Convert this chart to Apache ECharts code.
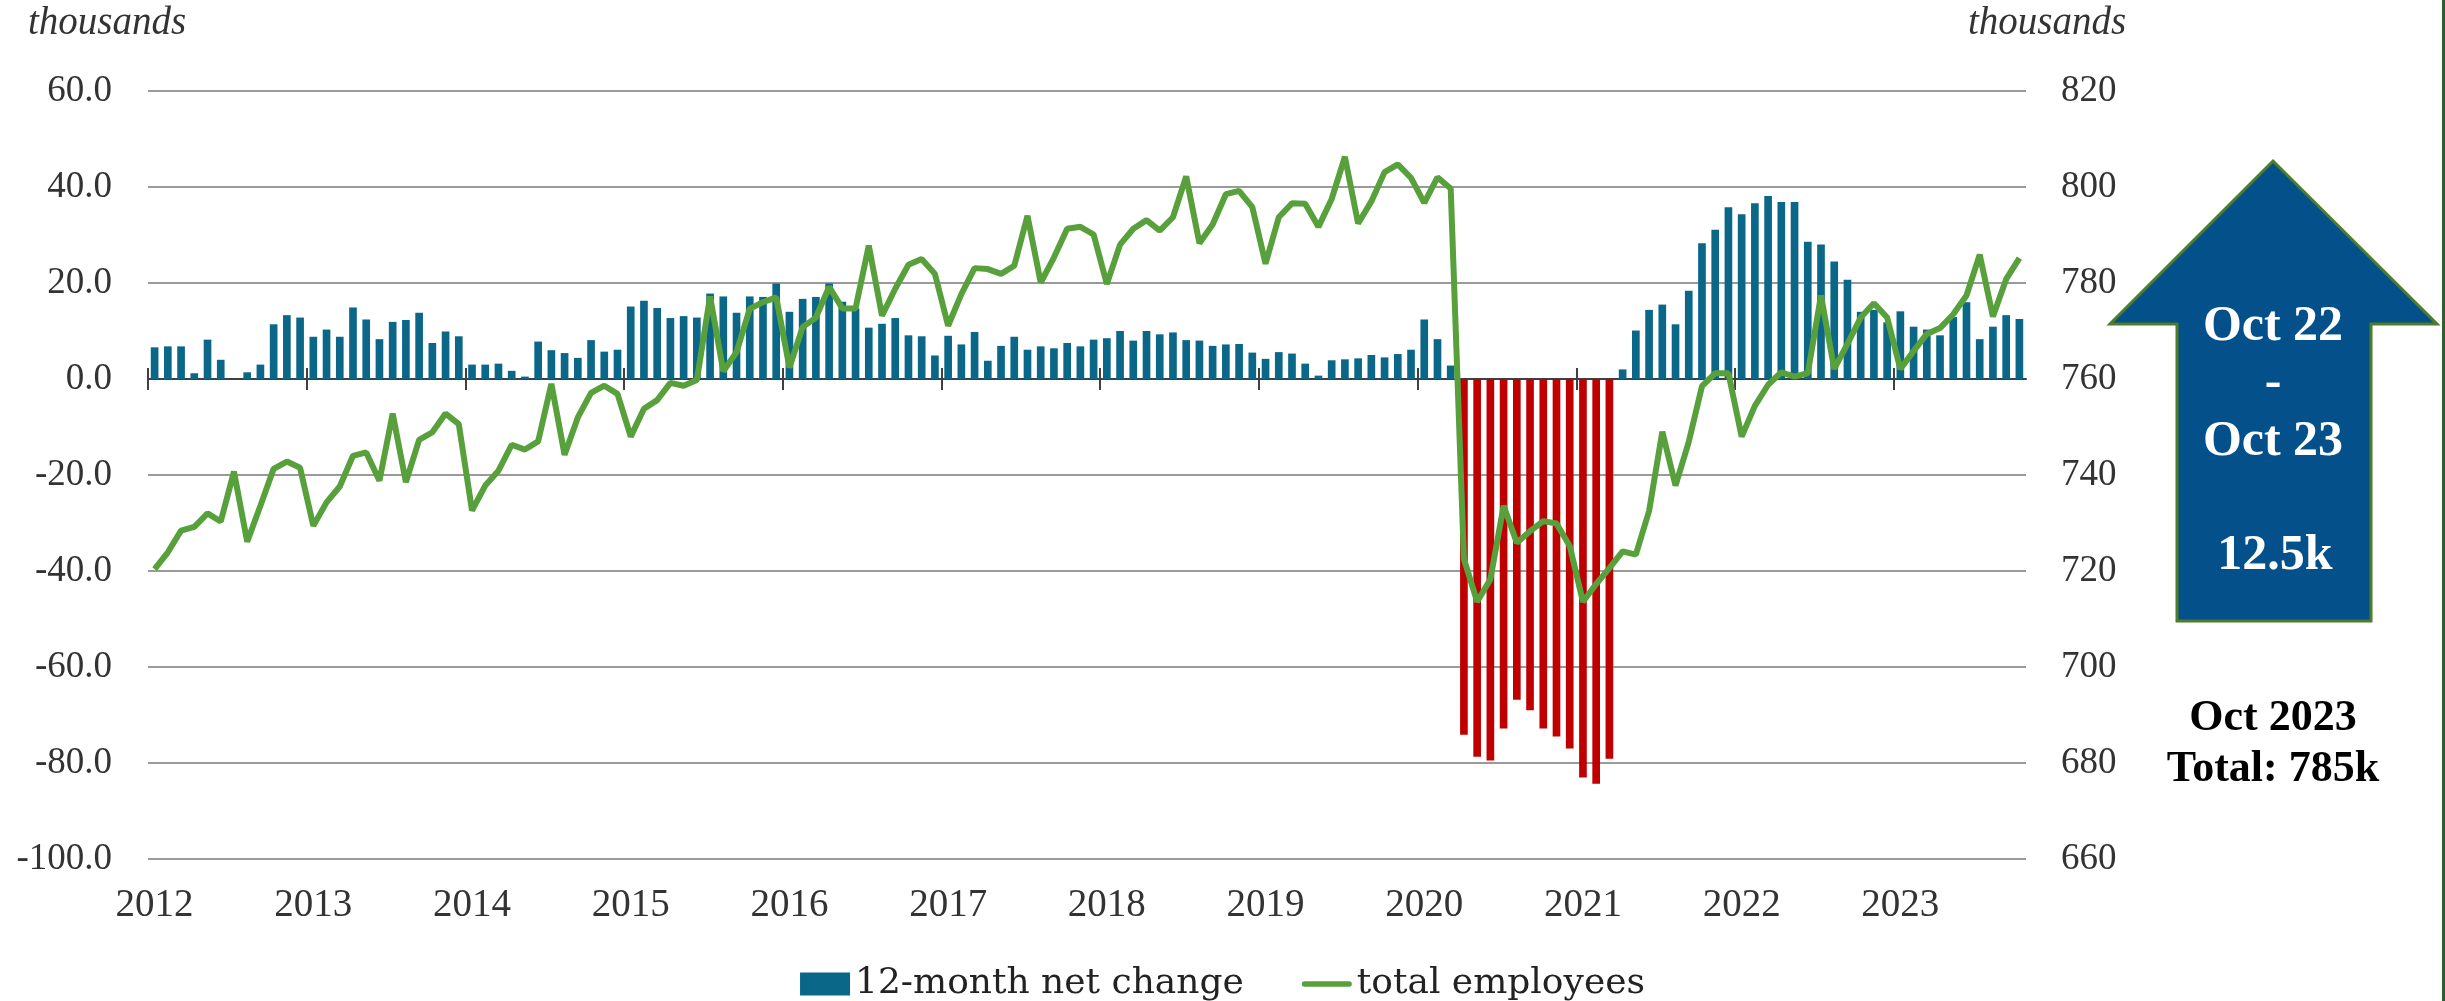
<!DOCTYPE html>
<html><head><meta charset="utf-8">
<script src="https://cdn.jsdelivr.net/npm/echarts@6/dist/echarts.min.js"></script>
<style>html,body{margin:0;padding:0;background:#fff}#c{width:2445px;height:1001px}</style>
</head><body><div id="c"></div>
<script>
// ---- data ----
const years = ['2012','2013','2014','2015','2016','2017','2018','2019','2020','2021','2022','2023'];
const monthNames = ['Jan','Feb','Mar','Apr','May','Jun','Jul','Aug','Sep','Oct','Nov','Dec'];
const leftTicks = [-100, -80, -60, -40, -20, 0, 20, 40, 60];
const rightTicks = [660, 680, 700, 720, 740, 760, 780, 800, 820];

// 12-month net change (thousands), Jan 2012 .. Oct 2023
const netChange = [
  6.6, 6.8, 6.8, 1.2, 8.2, 4.0, 0.0, 1.4, 3.0, 11.4, 13.3, 12.8,
  8.8, 10.3, 8.8, 14.9, 12.4, 8.3, 11.9, 12.3, 13.8, 7.5, 9.9, 8.9,
  3.0, 3.0, 3.2, 1.7, 0.5, 7.8, 6.0, 5.4, 4.4, 8.1, 5.7, 6.1,
  15.1, 16.3, 14.8, 12.7, 13.1, 12.8, 17.8, 17.2, 13.8, 17.2, 17.1, 19.9,
  14.0, 16.7, 17.1, 19.9, 16.1, 14.7, 10.7, 11.5, 12.7, 9.1, 8.9, 4.9,
  9.0, 7.2, 9.8, 3.8, 6.9, 8.8, 6.1, 6.8, 6.4, 7.5, 6.8, 8.2,
  8.5, 10.0, 8.0, 10.0, 9.3, 9.7, 8.1, 8.0, 6.9, 7.2, 7.3, 5.5,
  4.2, 5.6, 5.3, 3.2, 0.7, 3.9, 4.1, 4.3, 5.0, 4.5, 5.2, 6.1,
  12.4, 8.3, 2.8, -74.1, -78.7, -79.5, -72.8, -66.8, -69.0, -72.8, -74.5, -77.0,
  -83.0, -84.3, -79.1, 2.0, 10.1, 14.4, 15.5, 11.4, 18.4, 28.3, 31.1, 35.8,
  34.3, 36.6, 38.1, 36.9, 36.9, 28.6, 28.0, 24.5, 20.7, 14.0, 14.4, 11.8,
  14.1, 10.9, 10.3, 9.1, 12.9, 16.0, 8.3, 10.9, 13.3, 12.5
];

// total employees (thousands), Jan 2012 .. Oct 2023
const totalEmployees = [
  720.4, 723.9, 728.4, 729.2, 732.0, 730.3, 740.7, 726.1, 733.6, 741.3, 742.8, 741.5,
  729.4, 734.3, 737.6, 744.0, 744.7, 738.8, 752.8, 738.5, 747.3, 748.9, 752.8, 750.6,
  732.6, 737.8, 740.9, 746.3, 745.3, 747.0, 759.0, 744.2, 752.0, 757.1, 758.6, 756.9,
  748.0, 753.8, 755.6, 759.2, 758.6, 759.8, 777.2, 761.6, 765.6, 774.6, 776.0, 777.0,
  762.4, 770.8, 772.8, 779.2, 774.7, 774.7, 787.8, 773.2, 778.8, 783.8, 785.0, 781.9,
  771.1, 777.7, 783.1, 782.9, 781.9, 783.6, 794.0, 780.1, 785.3, 791.3, 791.7, 790.1,
  779.8, 788.0, 791.3, 793.1, 790.9, 793.7, 802.2, 788.3, 792.2, 798.5, 799.2, 795.8,
  784.0, 793.7, 796.6, 796.5, 791.7, 797.5, 806.3, 792.4, 797.0, 803.1, 804.7, 801.9,
  796.7, 802.0, 799.7, 722.5, 713.6, 718.3, 733.6, 725.9, 728.3, 730.4, 729.9, 725.2,
  713.6, 717.3, 720.6, 724.1, 723.4, 732.5, 749.0, 737.8, 746.9, 758.5, 761.2, 761.2,
  748.0, 754.4, 758.8, 761.4, 760.5, 761.2, 777.4, 762.1, 767.3, 772.8, 775.8, 772.8,
  762.1, 765.8, 769.4, 770.6, 773.5, 777.4, 785.9, 773.0, 780.8, 785.2
];

const categories = [];
years.forEach(y => monthNames.forEach(m => categories.push(m + ' ' + y)));
categories.length = netChange.length;
// months up to the last year tick (Jan 2012 .. Dec 2022) used only for the year tick marks
const tickCategories = categories.slice(0, (years.length - 1) * 12);

// ---- chart ----
const chart = echarts.init(document.getElementById('c'));
const serif = '"Liberation Serif", "DejaVu Serif", serif';
const isYearStart = (i) => i % 12 === 0;

const GRID_LEFT = 148, GRID_RIGHT = 419, GRID_TOP = 91, GRID_BOTTOM = 142;
const plotW = 2445 - GRID_LEFT - GRID_RIGHT;
const tickGridRight = 2445 - GRID_LEFT - plotW * tickCategories.length / categories.length;

const option = {
  backgroundColor: '#ffffff',
  animation: false,
  grid: [
    { left: GRID_LEFT, right: GRID_RIGHT, top: GRID_TOP, bottom: GRID_BOTTOM, containLabel: false },
    { left: GRID_LEFT, right: tickGridRight, top: GRID_TOP, bottom: GRID_BOTTOM, containLabel: false }
  ],
  legend: {
    left: 'center', top: 961, itemWidth: 50, itemHeight: 23, itemGap: 58,
    textStyle: { fontFamily: '"DejaVu Serif", serif', fontSize: 36, color: '#222' },
    data: [
      { name: '12-month net change', icon: 'rect', itemStyle: { color: '#0B6788' } },
      { name: 'total employees', icon: 'path://M5,0 H95 A5,5 0 0 1 95,11 H5 A5,5 0 0 1 5,0 Z', itemStyle: { color: '#57A03B' } }
    ]
  },
  xAxis: [
    {
      type: 'category', data: categories, gridIndex: 0, position: 'bottom',
      axisLine: { show: false, onZero: false }, axisTick: { show: false },
      axisLabel: {
        interval: 11, margin: 27,
        fontFamily: serif, fontSize: 39, color: '#333',
        formatter: (v, i) => isYearStart(i) ? years[i / 12] : ''
      },
      splitLine: { show: false }
    },
    {
      type: 'category', data: categories, gridIndex: 0, position: 'bottom',
      axisLine: { show: true, onZero: true, onZeroAxisIndex: 0, lineStyle: { color: '#404040', width: 2 } },
      axisTick: { show: false }, axisLabel: { show: false }, splitLine: { show: false }
    },
    {
      type: 'category', data: tickCategories, gridIndex: 1, position: 'bottom',
      axisLine: { show: false, onZero: true, onZeroAxisIndex: 2 },
      axisTick: { show: true, interval: (i) => isYearStart(i), length: 11, lineStyle: { color: '#404040', width: 2 } },
      axisLabel: { show: false }, splitLine: { show: false }
    },
    {
      type: 'category', data: tickCategories, gridIndex: 1, position: 'bottom',
      axisLine: { show: false, onZero: true, onZeroAxisIndex: 2 },
      axisTick: { show: true, inside: true, interval: (i) => isYearStart(i), length: 11, lineStyle: { color: '#404040', width: 2 } },
      axisLabel: { show: false }, splitLine: { show: false }
    }
  ],
  yAxis: [
    {
      type: 'value', gridIndex: 0, min: leftTicks[0], max: leftTicks[leftTicks.length - 1], interval: 20,
      axisLine: { show: false }, axisTick: { show: false },
      axisLabel: { margin: 36, fontFamily: serif, fontSize: 37, color: '#333', formatter: v => v.toFixed(1) },
      splitLine: { show: true, lineStyle: { color: '#9a9a9a', width: 2 } }
    },
    {
      type: 'value', gridIndex: 0, min: rightTicks[0], max: rightTicks[rightTicks.length - 1], interval: 20, position: 'right',
      axisLine: { show: false }, axisTick: { show: false },
      axisLabel: { margin: 35, fontFamily: serif, fontSize: 37, color: '#333' },
      splitLine: { show: false }
    },
    {
      type: 'value', gridIndex: 1, min: leftTicks[0], max: leftTicks[leftTicks.length - 1], interval: 20,
      show: false, splitLine: { show: false }
    }
  ],
  series: [
    {
      name: '12-month net change', type: 'bar', xAxisIndex: 0, yAxisIndex: 0,
      data: netChange, barWidth: '58%',
      itemStyle: { color: (p) => p.value < 0 ? '#C00000' : '#0B6788' },
      z: 2
    },
    {
      name: 'total employees', type: 'line', xAxisIndex: 0, yAxisIndex: 1,
      data: totalEmployees, symbol: 'none', smooth: false,
      lineStyle: { color: '#57A03B', width: 6 },
      itemStyle: { color: '#57A03B' },
      z: 5
    }
  ],
  graphic: [
    { type: 'text', x: 28, y: 24, style: { text: 'thousands', font: 'italic 39px "Liberation Serif"', fill: '#333', textAlign: 'left', textVerticalAlign: 'middle' } },
    { type: 'text', x: 1968, y: 24, style: { text: 'thousands', font: 'italic 39px "Liberation Serif"', fill: '#333', textAlign: 'left', textVerticalAlign: 'middle' } },
    { type: 'polygon', shape: { points: [[2273,161],[2437,324],[2371,324],[2371,621],[2177,621],[2177,324],[2110,324]] },
      style: { fill: '#03508B', stroke: '#4E7D2A', lineWidth: 3 } },
    { type: 'text', x: 2273, y: 327, style: { text: 'Oct 22', font: 'bold 50px "Liberation Serif"', fill: '#fff', textAlign: 'center', textVerticalAlign: 'middle' } },
    { type: 'text', x: 2273, y: 384, style: { text: '-', font: 'bold 50px "Liberation Serif"', fill: '#fff', textAlign: 'center', textVerticalAlign: 'middle' } },
    { type: 'text', x: 2273, y: 442, style: { text: 'Oct 23', font: 'bold 50px "Liberation Serif"', fill: '#fff', textAlign: 'center', textVerticalAlign: 'middle' } },
    { type: 'text', x: 2275, y: 556, style: { text: '12.5k', font: 'bold 50px "Liberation Serif"', fill: '#fff', textAlign: 'center', textVerticalAlign: 'middle' } },
    { type: 'text', x: 2273, y: 719, style: { text: 'Oct 2023', font: 'bold 44px "Liberation Serif"', fill: '#000', textAlign: 'center', textVerticalAlign: 'middle' } },
    { type: 'text', x: 2273, y: 770, style: { text: 'Total: 785k', font: 'bold 44px "Liberation Serif"', fill: '#000', textAlign: 'center', textVerticalAlign: 'middle' } },
    { type: 'rect', shape: { x: 2442, y: 0, width: 3, height: 1001 }, style: { fill: '#2F5F2F' } }
  ]
};
chart.setOption(option);
</script>
</body></html>
